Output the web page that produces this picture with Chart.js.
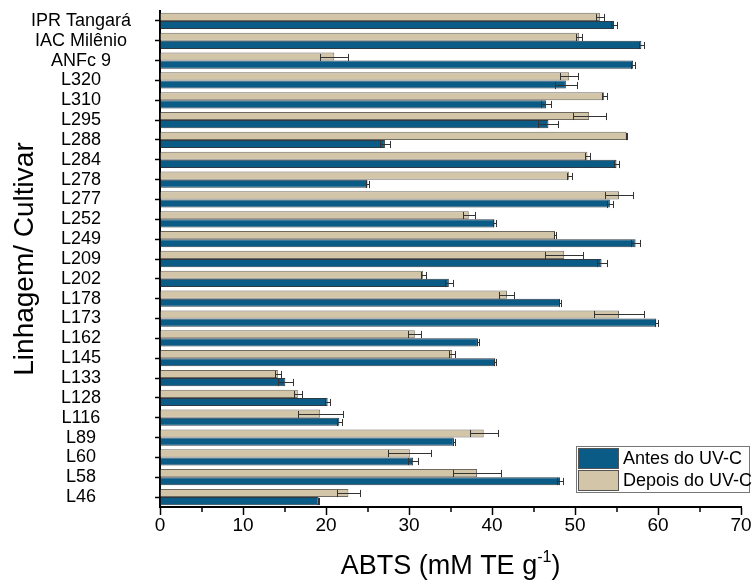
<!DOCTYPE html>
<html>
<head>
<meta charset="utf-8">
<script src="https://cdn.jsdelivr.net/npm/chart.js@4"></script>
<style>
  body { margin: 0; background: #fff; }
  #wrap { width: 753px; height: 584px; }
</style>
</head>
<body>
<div id="wrap"><canvas id="abtsChart" width="753" height="584"></canvas></div>
<script>
  // Data
  const categories = ['IPR Tangará', 'IAC Milênio', 'ANFc 9', 'L320', 'L310', 'L295', 'L288', 'L284', 'L278', 'L277',
    'L252', 'L249', 'L209', 'L202', 'L178', 'L173', 'L162', 'L145', 'L133', 'L128', 'L116', 'L89', 'L60', 'L58', 'L46'];
  const antes = [54.7, 58.0, 57.0, 48.9, 46.5, 46.8, 27.1, 55.0, 25.0, 54.2, 40.3, 57.3, 53.2, 34.8, 48.2, 59.8,
    38.3, 40.4, 15.1, 20.2, 21.6, 35.4, 30.5, 48.2, 19.1];
  const antesErr = [0.4, 0.3, 0.2, 1.3, 0.6, 1.2, 0.6, 0.3, 0.2, 0.4, 0.2, 0.5, 0.6, 0.5, 0.1, 0.2,
    0.1, 0.1, 0.9, 0.3, 0.3, 0.1, 0.6, 0.4, 0.1];
  const depois = [53.0, 50.5, 21.0, 49.3, 53.5, 51.7, 56.2, 51.5, 49.3, 55.3, 37.2, 47.6, 48.7, 31.7, 41.8, 55.3,
    30.7, 35.2, 14.2, 16.6, 19.3, 39.0, 30.1, 38.2, 22.7];
  const depoisErr = [0.5, 0.4, 1.7, 1.1, 0.3, 2.0, 0.1, 0.3, 0.3, 1.7, 0.7, 0.1, 2.3, 0.3, 0.9, 3.0,
    0.8, 0.4, 0.4, 0.5, 2.7, 1.7, 2.6, 2.9, 1.4];
  const xTicks = [0, 10, 20, 30, 40, 50, 60, 70];

  const FONT = '"Liberation Sans", Arial, sans-serif';
  const errors = [depoisErr, antesErr];

  // Error bars: whisker from mean-sd to mean+sd with caps
  const errorBars = {
    id: 'errorBars',
    afterDatasetsDraw(chart) {
      const ctx = chart.ctx;
      const xs = chart.scales.x;
      ctx.save();
      ctx.strokeStyle = '#333';
      ctx.lineWidth = 1;
      chart.data.datasets.forEach((ds, i) => {
        const meta = chart.getDatasetMeta(i);
        meta.data.forEach((bar, j) => {
          const v = ds.data[j], e = errors[i][j];
          const lo = Math.round(xs.getPixelForValue(v - e)) + 0.5;
          const hi = Math.round(xs.getPixelForValue(v + e)) + 0.5;
          const y = Math.round(bar.y) + 0.5;
          const h = bar.height / 2 - 0.5;
          ctx.beginPath();
          ctx.moveTo(lo, y); ctx.lineTo(hi, y);
          ctx.moveTo(lo, y - h); ctx.lineTo(lo, y + h);
          ctx.moveTo(hi, y - h); ctx.lineTo(hi, y + h);
          ctx.stroke();
        });
      });
      ctx.restore();
    }
  };

  // Minor ticks, x title with superscript and the boxed legend
  const extras = {
    id: 'extras',
    afterDraw(chart) {
      const ctx = chart.ctx;
      const xs = chart.scales.x;
      const area = chart.chartArea;
      ctx.save();
      ctx.strokeStyle = '#000';
      ctx.lineWidth = 1.5;
      for (let v = 5; v < 70; v += 10) {
        const x = Math.round(xs.getPixelForValue(v));
        ctx.beginPath();
        ctx.moveTo(x, area.bottom);
        ctx.lineTo(x, area.bottom + 5);
        ctx.stroke();
      }

      // x axis title
      ctx.fillStyle = '#000';
      ctx.textBaseline = 'alphabetic';
      const main = 'ABTS (mM TE g';
      const sup = '-1';
      const tail = ')';
      ctx.font = '27px ' + FONT;
      const wMain = ctx.measureText(main).width;
      const wTail = ctx.measureText(tail).width;
      ctx.font = '16px ' + FONT;
      const wSup = ctx.measureText(sup).width;
      let x = (area.left + area.right) / 2 - (wMain + wSup + wTail) / 2;
      const base = 574;
      ctx.font = '27px ' + FONT;
      ctx.fillText(main, x, base);
      x += wMain;
      ctx.font = '16px ' + FONT;
      ctx.fillText(sup, x, base - 12);
      x += wSup;
      ctx.font = '27px ' + FONT;
      ctx.fillText(tail, x, base);

      // legend
      const lx = 576, ly = 446, lw = 173, lh = 46;
      ctx.fillStyle = '#fff';
      ctx.fillRect(lx, ly, lw, lh);
      ctx.strokeStyle = '#777';
      ctx.lineWidth = 1;
      ctx.strokeRect(lx + 0.5, ly + 0.5, lw, lh);
      const entries = [chart.data.datasets[1], chart.data.datasets[0]];
      entries.forEach((ds, k) => {
        const sy = ly + 2 + k * 22;
        ctx.fillStyle = ds.backgroundColor;
        ctx.fillRect(lx + 2, sy, 40, 20);
        ctx.strokeStyle = '#555';
        ctx.strokeRect(lx + 2.5, sy + 0.5, 40, 20);
        ctx.fillStyle = '#000';
        ctx.font = '18px ' + FONT;
        ctx.textBaseline = 'middle';
        ctx.fillText(ds.label, lx + 47, sy + 11);
      });
      ctx.restore();
    }
  };

  new Chart(document.getElementById('abtsChart').getContext('2d'), {
    type: 'bar',
    data: {
      labels: categories,
      datasets: [
        {
          label: 'Depois do UV-C',
          data: depois,
          backgroundColor: '#d3c6a8',
          borderColor: '#6e6a60',
          borderWidth: 1,
          categoryPercentage: 0.82,
          barPercentage: 1.0
        },
        {
          label: 'Antes do UV-C',
          data: antes,
          backgroundColor: '#0b5b87',
          borderColor: '#2d3a44',
          borderWidth: 1,
          categoryPercentage: 0.82,
          barPercentage: 1.0
        }
      ]
    },
    options: {
      responsive: false,
      animation: false,
      indexAxis: 'y',
      layout: { padding: { top: 11, right: 12, left: 0, bottom: 0 } },
      plugins: {
        legend: { display: false },
        tooltip: { enabled: false }
      },
      scales: {
        x: {
          min: 0,
          max: 70,
          afterBuildTicks: s => { s.ticks = xTicks.map(v => ({ value: v })); },
          ticks: { color: '#000', padding: -1, maxRotation: 0, font: { size: 19, family: FONT } },
          grid: { drawOnChartArea: false, tickLength: 8, tickColor: '#000', tickWidth: 1.5 },
          border: { color: '#000', width: 2 },
          afterFit: s => { s.height = 77; }
        },
        y: {
          ticks: {
            autoSkip: false,
            crossAlign: 'center',
            padding: 24,
            color: '#000',
            font: { size: 18, family: FONT, lineHeight: 1 }
          },
          grid: { offset: false, drawOnChartArea: false, tickLength: 5, tickColor: '#000', tickWidth: 1.5 },
          border: { color: '#000', width: 2 },
          title: {
            display: true,
            text: 'Linhagem/ Cultivar',
            color: '#000',
            font: { size: 28, family: FONT },
            padding: { top: 8, bottom: 0 }
          },
          afterFit: s => {
            s.width = 160;
            s.paddingTop = 0;
            s.paddingBottom = 0;
          }
        }
      }
    },
    plugins: [errorBars, extras]
  });
</script>
</body>
</html>
